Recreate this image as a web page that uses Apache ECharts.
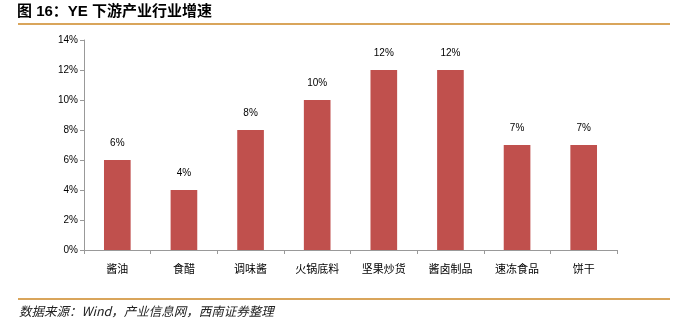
<!DOCTYPE html>
<html><head><meta charset="utf-8">
<script src="https://cdn.jsdelivr.net/npm/echarts@6/dist/echarts.min.js"></script>
<style>html,body{margin:0;padding:0;background:#fff}#c{width:680px;height:332px}</style>
</head><body><div id="c"></div>
<script>
const categories = ['酱油','食醋','调味酱','火锅底料','坚果炒货','酱卤制品','速冻食品','饼干'];
const values = [6, 4, 8, 10, 12, 12, 7, 7];
const yTicks = [0, 2, 4, 6, 8, 10, 12, 14];
const titleText = '图 16：YE 下游产业行业增速';
const sourceText = '数据来源：Wind，产业信息网，西南证券整理';

const chart = echarts.init(document.getElementById('c'), null, {renderer:'canvas'});
const font = '"Liberation Sans","Noto Sans CJK SC",sans-serif';
chart.setOption({
  animation:false,
  backgroundColor:'#fff',
  graphic:[
    {type:'text', left:17, top:4, style:{text:titleText, font:'bold 15px "Liberation Sans","Noto Sans CJK SC",sans-serif', fill:'#000'}},
    {type:'rect', shape:{x:18,y:23,width:652,height:2}, style:{fill:'#d9a55b'}},
    {type:'rect', shape:{x:18,y:298,width:652,height:2}, style:{fill:'#d9a55b'}},
    {type:'text', left:19, top:305, style:{text:sourceText, font:'italic 12.5px "Noto Sans CJK SC",sans-serif', fill:'#222'}}
  ],
  grid:{left:84, right:63, top:40, bottom:82, containLabel:false},
  xAxis:{type:'category', data:categories,
    axisLine:{lineStyle:{color:'#999'}},
    axisTick:{show:true, length:4, lineStyle:{color:'#999'}},
    axisLabel:{color:'#000', fontSize:11, margin:14, fontFamily:font}
  },
  yAxis:{type:'value', min:yTicks[0], max:yTicks[yTicks.length-1], interval:2,
    axisLine:{show:true, lineStyle:{color:'#999'}},
    axisTick:{show:true, length:4, lineStyle:{color:'#999'}},
    splitLine:{show:false},
    axisLabel:{color:'#000', fontSize:10, margin:6, fontFamily:font, formatter:v=>v+'%'}
  },
  series:[{type:'bar', data:values, barWidth:'40%',
    itemStyle:{color:'#c0504d'},
    label:{show:true, position:'top', distance:12, color:'#000', fontSize:10, fontFamily:font, formatter:p=>p.value+'%'}
  }]
});
</script></body></html>
